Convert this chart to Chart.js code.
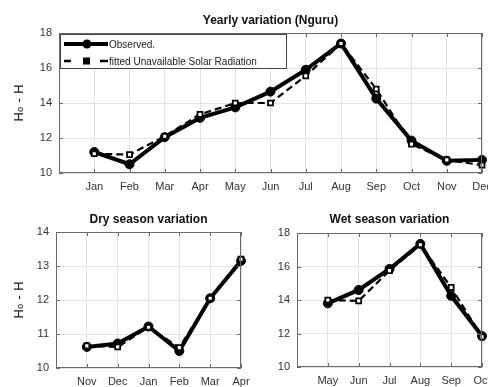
<!DOCTYPE html>
<html>
<head>
<meta charset="utf-8">
<script src="https://cdn.jsdelivr.net/npm/chart.js@4.4.0/dist/chart.umd.min.js"></script>
<style>
body { margin: 0; background: #fff; }
#wrap { position: relative; width: 488px; height: 387px; overflow: hidden; }
canvas { position: absolute; }
</style>
</head>
<body>
<div id="wrap">
  <canvas id="yearly" width="488" height="200" style="left:0;top:0"></canvas>
  <canvas id="dry" width="250" height="187" style="left:0;top:200px"></canvas>
  <canvas id="wet" width="238" height="187" style="left:250px;top:200px"></canvas>
</div>
<script>
// values (H0 - H)
const months = ['Jan', 'Feb', 'Mar', 'Apr', 'May', 'Jun', 'Jul', 'Aug', 'Sep', 'Oct', 'Nov', 'Dec'];
const observedYear = [11.2, 10.5, 12.05, 13.15, 13.75, 14.65, 15.9, 17.4, 14.25, 11.85, 10.7, 10.75];
const fittedYear = [11.1, 11.05, 12.1, 13.35, 14.0, 14.0, 15.55, 17.4, 14.8, 11.65, 10.75, 10.45];

const dryMonths = ['Nov', 'Dec', 'Jan', 'Feb', 'Mar', 'Apr'];
const observedDry = [10.62, 10.72, 11.22, 10.5, 12.05, 13.15];
const fittedDry = [10.65, 10.62, 11.2, 10.6, 12.05, 13.2];

const wetMonths = ['May', 'Jun', 'Jul', 'Aug', 'Sep', 'Oct'];
const observedWet = [13.8, 14.6, 15.85, 17.35, 14.25, 11.85];
const fittedWet = [14.0, 13.95, 15.75, 17.3, 14.75, 11.8];

const yearRange = [10, 18, 2];
const dryRange = [10, 14, 1];
const wetRange = [10, 18, 2];

const seriesNames = ['Observed.', 'fitted Unavailable Solar Radiation'];

const axisColor = '#6b6b6b';
const gridColor = '#e3e3e3';
const textColor = '#333';
const fontFamily = '"Liberation Sans", Arial, sans-serif';

const toPoints = (vals) => vals.map((v, i) => ({ x: i + 1, y: v }));

// box round the axes plus little inward tick marks, like the original
const boxPlugin = {
    id: 'box',
    afterDraw(chart) {
        const { ctx, chartArea: a, scales } = chart;
        ctx.save();
        ctx.strokeStyle = axisColor;
        ctx.lineWidth = 1;
        ctx.strokeRect(a.left + 0.5, a.top + 0.5, a.right - a.left - 1, a.bottom - a.top - 1);
        ctx.beginPath();
        scales.x.ticks.forEach(t => {
            const px = Math.round(scales.x.getPixelForValue(t.value)) + 0.5;
            ctx.moveTo(px, a.bottom); ctx.lineTo(px, a.bottom - 4);
            ctx.moveTo(px, a.top); ctx.lineTo(px, a.top + 4);
        });
        scales.y.ticks.forEach(t => {
            const py = Math.round(scales.y.getPixelForValue(t.value)) + 0.5;
            ctx.moveTo(a.left, py); ctx.lineTo(a.left + 4, py);
            ctx.moveTo(a.right, py); ctx.lineTo(a.right - 4, py);
        });
        ctx.stroke();
        ctx.restore();
    }
};

const legendPlugin = {
    id: 'innerLegend',
    afterDraw(chart) {
        const { ctx, chartArea: a } = chart;
        const x0 = a.left + 1, y0 = a.top + 1;
        ctx.save();
        ctx.fillStyle = '#fff';
        ctx.fillRect(x0, y0, 226, 34);
        ctx.strokeStyle = '#444';
        ctx.lineWidth = 1;
        ctx.strokeRect(x0 + 0.5, y0 + 0.5, 226, 34);

        // observed
        let y = y0 + 10;
        ctx.strokeStyle = '#000';
        ctx.lineWidth = 4;
        ctx.beginPath(); ctx.moveTo(x0 + 4, y); ctx.lineTo(x0 + 48, y); ctx.stroke();
        ctx.fillStyle = '#000';
        ctx.beginPath(); ctx.arc(x0 + 27, y, 4.5, 0, Math.PI * 2); ctx.fill();

        // fitted
        y = y0 + 27;
        ctx.lineWidth = 2.5;
        ctx.beginPath();
        ctx.moveTo(x0 + 4, y); ctx.lineTo(x0 + 11, y);
        ctx.moveTo(x0 + 40, y); ctx.lineTo(x0 + 48, y);
        ctx.stroke();
        ctx.fillRect(x0 + 23, y - 3.5, 7, 7);

        ctx.fillStyle = '#222';
        ctx.font = '10px ' + fontFamily;
        ctx.textBaseline = 'middle';
        ctx.fillText(seriesNames[0], x0 + 49, y0 + 11);
        ctx.fillText(seriesNames[1], x0 + 49, y0 + 28);
        ctx.restore();
    }
};

function makeChart(id, opts) {
    const labels = opts.labels;
    return new Chart(document.getElementById(id), {
        type: 'line',
        data: {
            datasets: [{
                label: seriesNames[0],
                data: toPoints(opts.observed),
                borderColor: '#000',
                backgroundColor: '#000',
                borderWidth: 4,
                pointStyle: 'circle',
                pointRadius: 4.5,
                pointBorderWidth: 1,
                clip: 8,
                order: 1,
            }, {
                label: seriesNames[1],
                data: toPoints(opts.fitted),
                borderColor: '#000',
                backgroundColor: '#fff',
                borderWidth: 2.2,
                borderDash: [7, 4],
                pointStyle: 'rect',
                pointRadius: 3.5,
                pointBorderWidth: 1.8,
                clip: 8,
                order: 0,
            }],
        },
        options: {
            responsive: false,
            devicePixelRatio: 1,
            animation: false,
            layout: { padding: { left: 0, right: opts.padRight, top: 0, bottom: 0 } },
            plugins: {
                legend: { display: false },
                tooltip: { enabled: false },
                title: {
                    display: true,
                    text: opts.title,
                    fullSize: false,
                    color: '#111',
                    font: { family: fontFamily, size: 12, weight: 'bold' },
                    padding: { top: opts.titleTop, bottom: opts.titleBottom },
                },
            },
            scales: {
                x: {
                    type: 'linear',
                    min: 0,
                    max: labels.length,
                    border: { display: false },
                    grid: { color: gridColor, drawTicks: false },
                    afterBuildTicks: (s) => { s.ticks = labels.map((l, i) => ({ value: i + 1 })); },
                    ticks: {
                        autoSkip: false,
                        maxRotation: 0,
                        padding: 7,
                        color: textColor,
                        font: { family: fontFamily, size: 11 },
                        callback: (v) => labels[v - 1] || '',
                    },
                    afterFit: (s) => { s.height = opts.xHeight; s.paddingLeft = 0; s.paddingRight = 0; },
                },
                y: {
                    min: opts.range[0],
                    max: opts.range[1],
                    border: { display: false },
                    grid: { color: gridColor, drawTicks: false },
                    ticks: {
                        stepSize: opts.range[2],
                        padding: 7,
                        color: textColor,
                        font: { family: fontFamily, size: 11 },
                    },
                    title: {
                        display: !!opts.yTitle,
                        text: opts.yTitle,
                        color: '#111',
                        font: { family: '"DejaVu Sans", sans-serif', size: 13 },
                        padding: { top: 12, bottom: 0 },
                    },
                    afterFit: (s) => { s.width = opts.yWidth; s.paddingTop = 0; s.paddingBottom = 0; },
                },
            },
        },
        plugins: opts.legend ? [boxPlugin, legendPlugin] : [boxPlugin],
    });
}

makeChart('yearly', {
    labels: months, observed: observedYear, fitted: fittedYear, range: yearRange,
    title: 'Yearly variation (Nguru)', yTitle: 'H\u2080 - H', legend: true,
    yWidth: 59, padRight: 6, xHeight: 27, titleTop: 13, titleBottom: 5.6,
});

makeChart('dry', {
    labels: dryMonths, observed: observedDry, fitted: fittedDry, range: dryRange,
    title: 'Dry season variation', yTitle: 'H\u2080 - H',
    yWidth: 56, padRight: 9, xHeight: 19, titleTop: 12, titleBottom: 5.6,
});

makeChart('wet', {
    labels: wetMonths, observed: observedWet, fitted: fittedWet, range: wetRange,
    title: 'Wet season variation', yTitle: '',
    yWidth: 47, padRight: 6, xHeight: 20, titleTop: 12, titleBottom: 6.6,
});
</script>
</body>
</html>
